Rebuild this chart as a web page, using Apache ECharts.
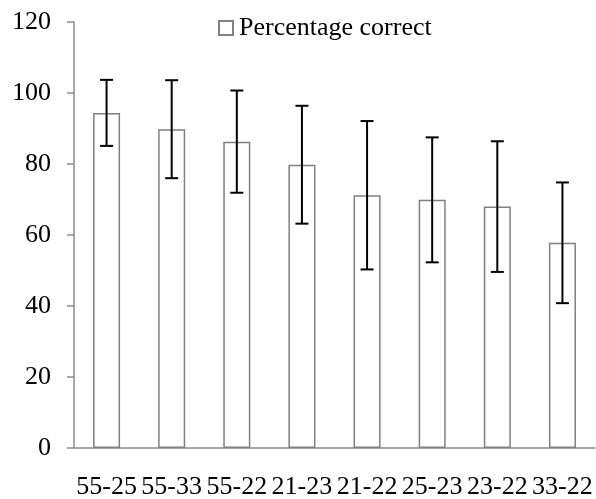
<!DOCTYPE html>
<html><head><meta charset="utf-8">
<script src="https://cdn.jsdelivr.net/npm/echarts@6/dist/echarts.min.js"></script>
<style>html,body{margin:0;padding:0;background:#fff}#c{width:596px;height:499px}</style>
</head><body><div id="c"></div>
<script>
const categories = ['55-25','55-33','55-22','21-23','21-22','25-23','23-22','33-22'];
const means = [94.4, 89.8, 86.3, 79.8, 71.2, 69.9, 68.0, 57.8];
const errors = [9.3, 13.8, 14.4, 16.6, 20.9, 17.6, 18.4, 17.0];
const yTicks = [0, 20, 40, 60, 80, 100, 120];

const font = 'Liberation Serif';
const chart = echarts.init(document.getElementById('c'), null, {renderer:'canvas'});
chart.setOption({
  animation: false,
  backgroundColor: '#fff',
  grid: {left: 74, right: 1, top: 22, bottom: 51, outerBoundsMode: 'none', containLabel: false},
  legend: {
    data: [{name: 'Percentage correct', icon: 'rect'}],
    left: 213, top: 10,
    itemWidth: 14, itemHeight: 14, itemGap: 5,
    textStyle: {fontFamily: font, fontSize: 26, color: '#000', padding: [0,0,0,1]}
  },
  xAxis: {
    type: 'category', data: categories,
    axisLine: {lineStyle: {color: '#8c8c8c', width: 1.5}},
    axisTick: {show: false},
    axisLabel: {fontFamily: font, fontSize: 26, color: '#000', margin: 26, interval: 0}
  },
  yAxis: {
    type: 'value', min: yTicks[0], max: yTicks[yTicks.length-1], interval: 20,
    splitLine: {show: false},
    axisLine: {show: true, lineStyle: {color: '#8c8c8c', width: 1.5}},
    axisTick: {show: true, length: 7, lineStyle: {color: '#8c8c8c', width: 1.5}},
    axisLabel: {fontFamily: font, fontSize: 26, color: '#000', margin: 23}
  },
  series: [
    {
      name: 'Percentage correct', type: 'bar', data: means,
      barWidth: '41.5%',
      itemStyle: {color: '#fff', borderColor: '#808080', borderWidth: 1.5}
    },
    {
      type: 'custom', name: 'err',
      data: means.map((m, i) => [i, m - errors[i], m + errors[i]]),
      renderItem: function (params, api) {
        const x = api.value(0);
        const lo = api.coord([x, api.value(1)]);
        const hi = api.coord([x, api.value(2)]);
        const hw = 6.5;
        const st = {stroke: '#000', lineWidth: 2};
        return {type: 'group', children: [
          {type: 'line', shape: {x1: lo[0], y1: lo[1], x2: hi[0], y2: hi[1]}, style: st},
          {type: 'line', shape: {x1: lo[0]-hw, y1: lo[1], x2: lo[0]+hw, y2: lo[1]}, style: st},
          {type: 'line', shape: {x1: hi[0]-hw, y1: hi[1], x2: hi[0]+hw, y2: hi[1]}, style: st}
        ]};
      },
      z: 10
    }
  ]
});
</script></body></html>
